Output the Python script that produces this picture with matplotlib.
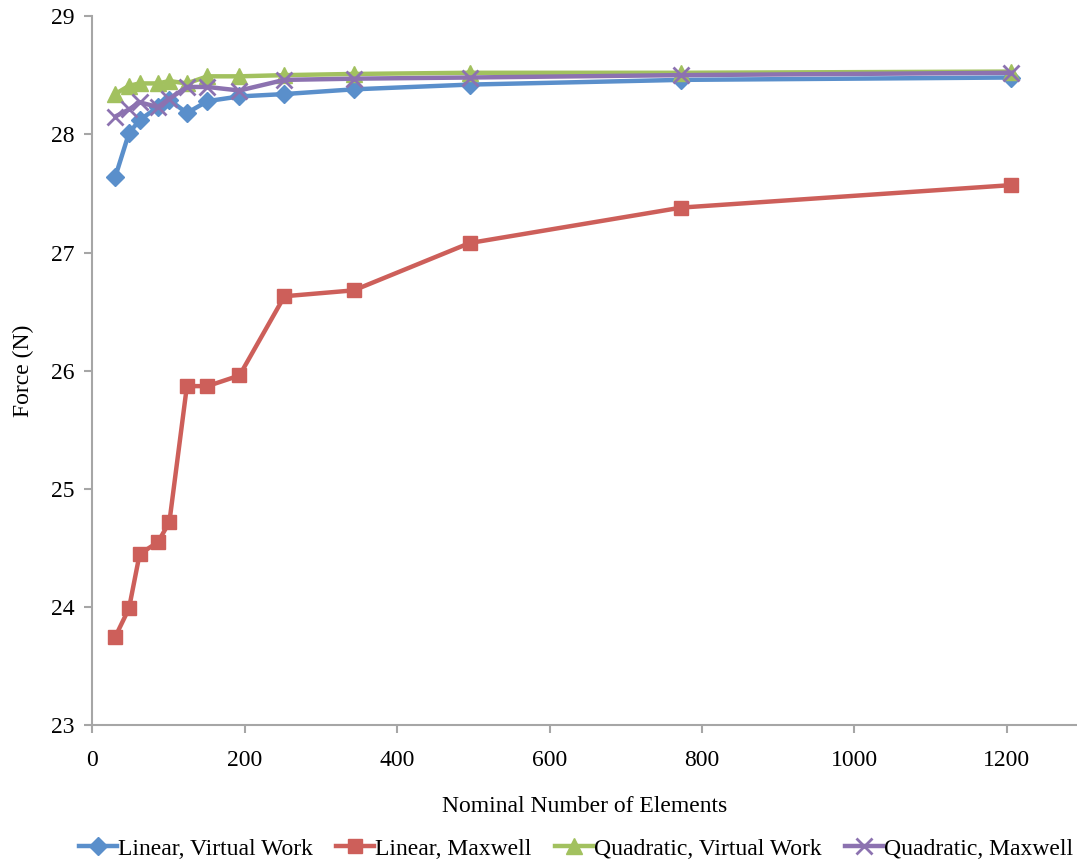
import matplotlib.pyplot as plt

plt.rcParams['font.family'] = ['Liberation Serif', 'DejaVu Serif']

# nominal mesh sizes and computed forces
elements = [30, 48, 62, 86, 101, 124, 151, 193, 252, 343, 495, 773, 1206]
lin_vw = [27.64, 28.01, 28.12, 28.23, 28.29, 28.18, 28.28, 28.32, 28.34, 28.38, 28.42, 28.46, 28.48]
lin_mx = [23.75, 23.99, 24.45, 24.55, 24.72, 25.87, 25.87, 25.96, 26.63, 26.68, 27.08, 27.38, 27.57]
quad_vw = [28.34, 28.41, 28.43, 28.43, 28.45, 28.43, 28.49, 28.49, 28.50, 28.51, 28.52, 28.52, 28.53]
quad_mx = [28.15, 28.21, 28.27, 28.23, 28.30, 28.40, 28.40, 28.37, 28.46, 28.47, 28.48, 28.50, 28.52]

fig = plt.figure(figsize=(10.77, 8.61), dpi=100)
ax = fig.add_axes([0.0858, 0.1574, 0.9142, 0.824])

lw = 3.2
ax.plot(elements, lin_vw, color='#5A8FCB', lw=lw, marker='D', ms=9.5, label='Linear, Virtual Work')
ax.plot(elements, lin_mx, color='#CD5F5A', lw=lw, marker='s', ms=10.5, label='Linear, Maxwell')
ax.plot(elements, quad_vw, color='#A2C15F', lw=lw, marker='^', ms=11.5, label='Quadratic, Virtual Work')
ax.plot(elements, quad_mx, color='#8C72B0', lw=lw, marker='x', ms=11, mew=2,
        label='Quadratic, Maxwell')

ax.set_xlim(0, 1292)
ax.set_ylim(23, 29)
ax.set_xticks(range(0, 1201, 200))
ax.set_yticks(range(23, 30))

for side in ['top', 'right']:
    ax.spines[side].set_visible(False)
for side in ['left', 'bottom']:
    ax.spines[side].set_color('#A6A6A6')
    ax.spines[side].set_linewidth(1.5)
ax.tick_params(colors='#A6A6A6', labelcolor='black', labelsize=17, length=6, width=1.5,
               direction='out')
ax.tick_params(axis='x', pad=12)
ax.tick_params(axis='y', pad=7)

ax.set_xlabel('Nominal Number of Elements', fontsize=17, labelpad=18)
ax.set_ylabel('Force (N)', fontsize=17, labelpad=12)

fig.legend(loc='lower center', bbox_to_anchor=(0.535, -0.023), ncol=4, frameon=False,
           fontsize=17, handlelength=1.6, handletextpad=0.05, columnspacing=1.0)

fig.savefig('out.png', dpi=100)
